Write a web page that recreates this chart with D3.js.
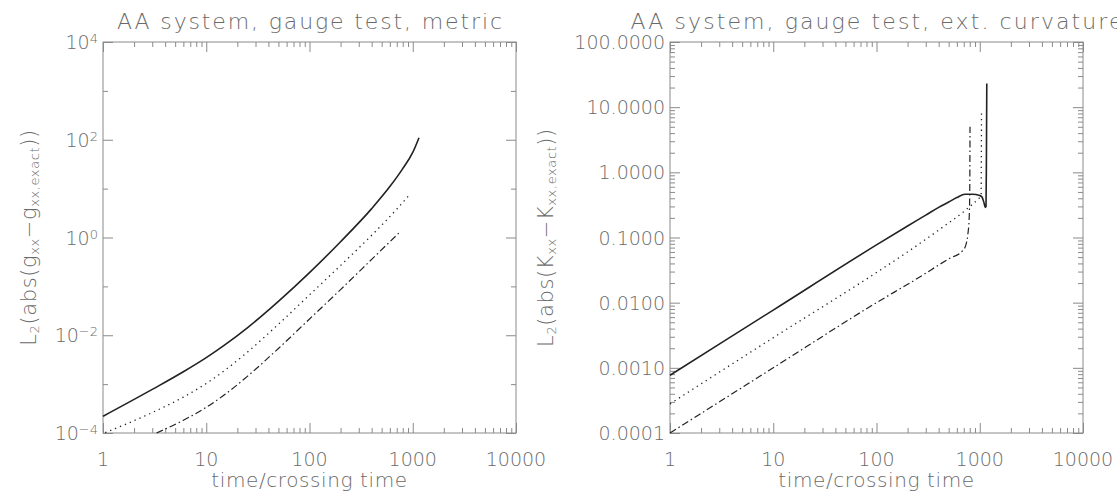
<!DOCTYPE html>
<html>
<head>
<meta charset="utf-8">
<script src="https://cdn.jsdelivr.net/npm/d3@7"></script>
<style>
  body { margin: 0; background: #fff; }
  text { font-family: "DejaVu Sans", sans-serif; font-weight: 200; fill: #6a6a6a; }
</style>
</head>
<body>
<div id="chart"></div>
<script>
// tick values
const xTicks = [1, 10, 100, 1000, 10000];
const metricTicks = [1e-4, 1e-2, 1, 1e2, 1e4];
const metricMinor = [1e-3, 1e-1, 10, 1e3];
const curvTicks = [1e-4, 1e-3, 1e-2, 1e-1, 1, 10, 100];

// left panel: metric error, [time, value]
const metricSolid = [[1, 2.2e-4], [3, 7.8e-4], [6, 1.79e-3], [10, 3.48e-3], [15, 6.27e-3],
  [25, 1.42e-2], [50, 4.94e-2], [100, 0.191], [200, 0.82], [400, 3.9], [600, 11],
  [800, 25.7], [1000, 55], [1150, 110]];
const metricDotted = [[1.05, 1.02e-4], [3, 2.62e-4], [6, 5.43e-4], [10, 1.03e-3], [15, 1.89e-3],
  [25, 4.5e-3], [50, 1.68e-2], [100, 0.067], [200, 0.268], [400, 1.11], [700, 3.8], [950, 7.9]];
const metricDashDot = [[3.3, 1e-4], [6, 1.82e-4], [10, 3.36e-4], [15, 6.05e-4], [25, 1.44e-3],
  [50, 5.37e-3], [100, 0.0215], [200, 0.086], [400, 0.356], [760, 1.33]];

// right panel: extrinsic curvature error, [time, value]
const curvSolid = [[1, 7.7e-4], [10, 7.7e-3], [100, 0.077], [200, 0.15], [300, 0.22],
  [400, 0.29], [500, 0.35], [600, 0.41], [720, 0.46], [850, 0.46], [1000, 0.44],
  [1050, 0.42], [1100, 0.34], [1130, 0.29], [1150, 0.3], [1160, 1.5], [1170, 23]];
const curvDotted = [[1, 2.8e-4], [10, 2.9e-3], [100, 0.029], [200, 0.06], [400, 0.13],
  [700, 0.25], [1000, 0.41], [1030, 0.43], [1040, 8.5]];
const curvDashDot = [[1, 1e-4], [10, 1e-3], [100, 0.01], [243, 0.023], [500, 0.047],
  [685, 0.063], [730, 0.075], [766, 0.11], [790, 0.2], [800, 0.5], [805, 5]];

const width = 1117, height = 496;
const svg = d3.select('#chart').append('svg')
  .attr('width', width)
  .attr('height', height);

function minorsOf(decades) {
  const out = [];
  decades.forEach(d => { for (let m = 2; m <= 9; m++) out.push(d * m); });
  return out;
}

function drawPanel(p) {
  const x = d3.scaleLog().domain([1, 10000]).range([p.left, p.right]);
  const y = d3.scaleLog().domain(p.yDomain).range([p.bottom, p.top]);
  const g = svg.append('g');

  // frame
  g.append('rect')
    .attr('x', p.left).attr('y', p.top)
    .attr('width', p.right - p.left).attr('height', p.bottom - p.top)
    .attr('fill', 'none').attr('stroke', '#8a8a8a').attr('stroke-width', 1);

  const xMinor = minorsOf([1, 10, 100, 1000]);

  // ticks on all four sides, pointing inward
  const addAxis = (axis, transform) => {
    const a = g.append('g').attr('transform', transform).call(axis);
    a.select('.domain').remove();
    a.selectAll('line').attr('stroke', '#8a8a8a');
  };
  addAxis(d3.axisBottom(x).tickValues(xTicks).tickSize(-10).tickFormat(''), `translate(0,${p.bottom})`);
  addAxis(d3.axisBottom(x).tickValues(xMinor).tickSize(-5).tickFormat(''), `translate(0,${p.bottom})`);
  addAxis(d3.axisTop(x).tickValues(xTicks).tickSize(-10).tickFormat(''), `translate(0,${p.top})`);
  addAxis(d3.axisTop(x).tickValues(xMinor).tickSize(-5).tickFormat(''), `translate(0,${p.top})`);
  addAxis(d3.axisLeft(y).tickValues(p.yTicks).tickSize(-10).tickFormat(''), `translate(${p.left},0)`);
  addAxis(d3.axisLeft(y).tickValues(p.yMinor).tickSize(-5).tickFormat(''), `translate(${p.left},0)`);
  addAxis(d3.axisRight(y).tickValues(p.yTicks).tickSize(-10).tickFormat(''), `translate(${p.right},0)`);
  addAxis(d3.axisRight(y).tickValues(p.yMinor).tickSize(-5).tickFormat(''), `translate(${p.right},0)`);

  // x labels
  g.selectAll('.xl').data(xTicks).join('text')
    .attr('x', d => x(d)).attr('y', p.bottom + 33)
    .attr('text-anchor', 'middle').attr('font-size', 19)
    .text(d => d);

  g.append('text')
    .attr('x', (p.left + p.right) / 2).attr('y', 487)
    .attr('text-anchor', 'middle').attr('font-size', 20)
    .attr('letter-spacing', 0.6)
    .text('time/crossing time');

  // y labels
  const yl = g.selectAll('.yl').data(p.yTicks).join('text')
    .attr('x', p.left - 5).attr('y', d => y(d) + 7)
    .attr('text-anchor', 'end').attr('font-size', 19);
  p.yLabel(yl);

  // title, stretched like the wide vector font of the original
  g.append('text')
    .attr('x', (p.left + p.right) / 2).attr('y', 29)
    .attr('text-anchor', 'middle').attr('font-size', 22)
    .attr('textLength', p.titleLength).attr('lengthAdjust', 'spacing')
    .text(p.title);

  // y title with subscripts
  const yt = g.append('text')
    .attr('transform', `translate(${p.yTitleX},${(p.top + p.bottom) / 2}) rotate(-90)`)
    .attr('text-anchor', 'middle').attr('font-size', 21)
    .attr('letter-spacing', 0.6);
  p.yTitle.forEach(([s, sub]) => {
    yt.append('tspan')
      .attr('font-size', sub ? 13 : 21)
      .attr('baseline-shift', sub ? '-25%' : null)
      .text(s);
  });

  const line = d3.line()
    .x(d => x(d[0])).y(d => y(d[1]))
    .curve(d3.curveMonotoneX);

  const series = [
    [p.solid, null, 1.6],
    [p.dotted, '1.3,4', 1.3],
    [p.dashDot, '7,3,1.5,3', 1.2]
  ];
  series.forEach(([data, dash, w]) => {
    g.append('path')
      .datum(data)
      .attr('d', line)
      .attr('fill', 'none')
      .attr('stroke', '#222')
      .attr('stroke-width', w)
      .attr('stroke-dasharray', dash);
  });
}

// powers of ten with superscript exponent
function powLabel(sel) {
  sel.each(function (d) {
    const t = d3.select(this);
    t.append('tspan').text('10');
    t.append('tspan').attr('font-size', 13).attr('baseline-shift', '45%')
      .text(Math.round(Math.log10(d)).toString().replace('-', '\u2212'));
  });
}

drawPanel({
  left: 103, right: 516, top: 42, bottom: 433,
  yDomain: [1e-4, 1e4], yTicks: metricTicks, yMinor: metricMinor,
  yLabel: powLabel,
  title: 'AA system, gauge test, metric', titleLength: 385,
  yTitleX: 36,
  yTitle: [['L'], ['2', true], ['(abs(g'], ['xx', true], ['\u2212g'], ['xx,exact', true], ['))']],
  solid: metricSolid, dotted: metricDotted, dashDot: metricDashDot
});

drawPanel({
  left: 670, right: 1083, top: 42, bottom: 433,
  yDomain: [1e-4, 100], yTicks: curvTicks, yMinor: minorsOf([1e-4, 1e-3, 1e-2, 1e-1, 1, 10]),
  yLabel: sel => sel.text(d3.format('.4f')),
  title: 'AA system, gauge test, ext. curvature', titleLength: 492,
  yTitleX: 553,
  yTitle: [['L'], ['2', true], ['(abs(K'], ['xx', true], ['\u2212K'], ['xx,exact', true], ['))']],
  solid: curvSolid, dotted: curvDotted, dashDot: curvDashDot
});
</script>
</body>
</html>
